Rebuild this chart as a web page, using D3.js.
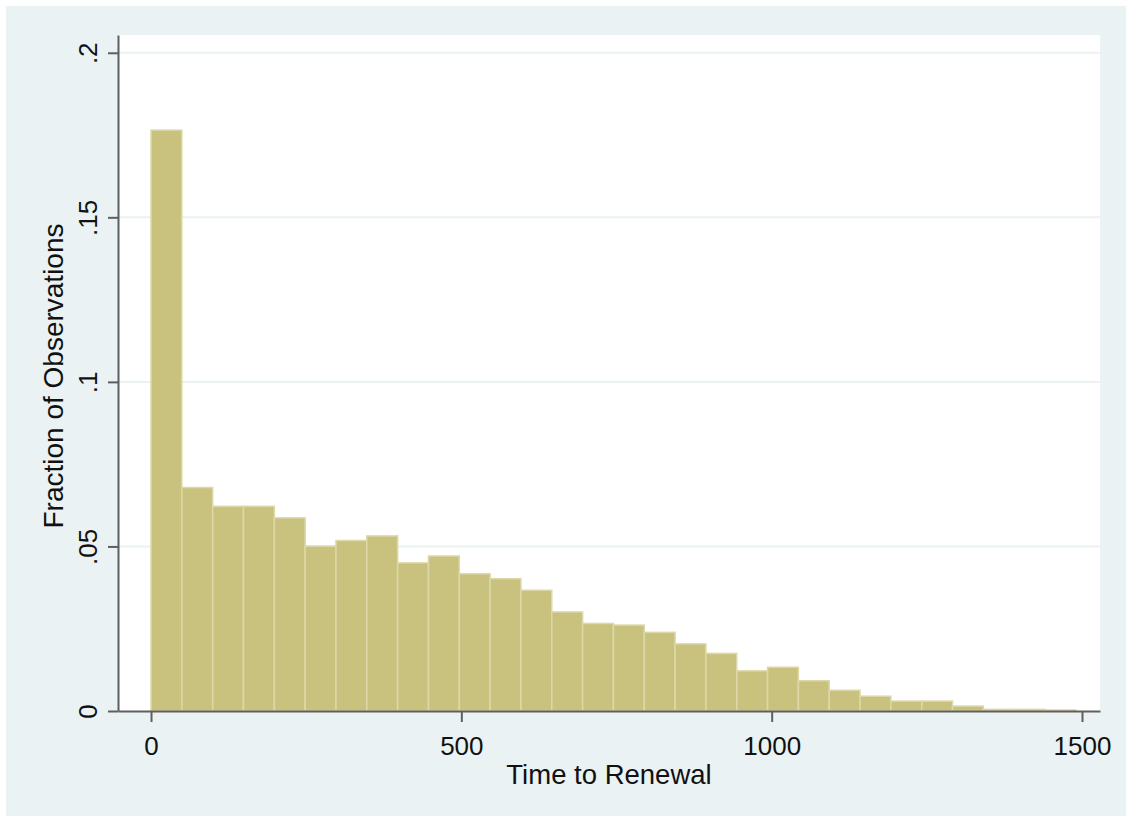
<!DOCTYPE html>
<html>
<head>
<meta charset="utf-8">
<script src="https://d3js.org/d3.v7.min.js"></script>
<style>
  body { margin: 0; background: #ffffff; }
  svg { display: block; font-family: "Liberation Sans", Arial, sans-serif; }
</style>
</head>
<body>
<div id="chart"></div>
<script>
// histogram bins: start of first bin, bin width, and fraction per bin
var binStart = 0;
var binWidth = 49.67;
var fractions = [
  0.1765, 0.0679, 0.0622, 0.0622, 0.0587, 0.0501, 0.0518, 0.0532, 0.0450, 0.0471,
  0.0417, 0.0402, 0.0367, 0.0301, 0.0266, 0.0261, 0.0239, 0.0204, 0.0175, 0.0122,
  0.0133, 0.0092, 0.0063, 0.0045, 0.0030, 0.0030, 0.0015, 0.0005, 0.0005, 0.0003
];
var xTicks = [0, 500, 1000, 1500];
var yTicks = [0, 0.05, 0.1, 0.15, 0.2];
var yTickLabels = ["0", ".05", ".1", ".15", ".2"];
var xTitle = "Time to Renewal";
var yTitle = "Fraction of Observations";

var svgWidth = 1126;
var svgHeight = 816;
// plot region edges
var margin = { top: 35, right: 26, bottom: 105, left: 118 };
var width = svgWidth - margin.left - margin.right;
var height = svgHeight - margin.top - margin.bottom;

var bins = fractions.map(function (f, i) {
  return { x0: binStart + i * binWidth, x1: binStart + (i + 1) * binWidth, frac: f };
});

var svg = d3.select("#chart")
  .append("svg")
  .attr("width", svgWidth)
  .attr("height", svgHeight);

// outer graph region
svg.append("rect")
  .attr("x", 6)
  .attr("y", 6)
  .attr("width", svgWidth - 6)
  .attr("height", svgHeight - 6)
  .attr("fill", "#eaf2f3");

var plot = svg.append("g")
  .attr("transform", `translate(${margin.left}, ${margin.top})`);

plot.append("rect")
  .attr("width", width)
  .attr("height", height)
  .attr("fill", "#ffffff");

var xScale = d3.scaleLinear()
  .domain([-53.2, 1529])
  .range([0, width]);

var yScale = d3.scaleLinear()
  .domain([0, 0.2054])
  .range([height, 0]);

// gridlines
plot.selectAll(".grid")
  .data(yTicks.filter(d => d > 0))
  .enter()
  .append("line")
  .attr("x1", 0)
  .attr("x2", width)
  .attr("y1", d => yScale(d))
  .attr("y2", d => yScale(d))
  .attr("stroke", "#eaf2f3")
  .attr("stroke-width", 2);

// bars
plot.selectAll(".bar")
  .data(bins)
  .enter()
  .append("rect")
  .attr("x", d => xScale(d.x0))
  .attr("y", d => yScale(d.frac))
  .attr("width", d => xScale(d.x1) - xScale(d.x0))
  .attr("height", d => yScale(0) - yScale(d.frac))
  .attr("fill", "#c9c27f")
  .attr("stroke", "#dcd8a8")
  .attr("stroke-width", 1.5);

// x axis
var bottomAxis = d3.axisBottom(xScale)
  .tickValues(xTicks)
  .tickSize(11)
  .tickSizeOuter(0)
  .tickFormat(d3.format("d"));

var xAxis = plot.append("g")
  .attr("transform", `translate(0, ${height})`)
  .call(bottomAxis);

xAxis.select(".domain").attr("stroke", "#5f5f5f").attr("stroke-width", 2);
xAxis.selectAll(".tick line").attr("stroke", "#5f5f5f").attr("stroke-width", 2);
xAxis.selectAll(".tick text")
  .attr("y", 44)
  .attr("dy", 0)
  .attr("fill", "#111")
  .attr("font-size", 26)
  .attr("font-family", "Liberation Sans, Arial, sans-serif");

// y axis
var leftAxis = d3.axisLeft(yScale)
  .tickValues(yTicks)
  .tickSize(10)
  .tickSizeOuter(0)
  .tickFormat((d, i) => yTickLabels[i]);

var yAxis = plot.append("g")
  .call(leftAxis);

yAxis.select(".domain").attr("stroke", "#5f5f5f").attr("stroke-width", 2);
yAxis.selectAll(".tick line").attr("stroke", "#5f5f5f").attr("stroke-width", 2);
yAxis.selectAll(".tick text")
  .attr("x", 0)
  .attr("y", 0)
  .attr("dy", 0)
  .attr("transform", "translate(-21, 0) rotate(-90)")
  .attr("text-anchor", "middle")
  .attr("fill", "#111")
  .attr("font-size", 26)
  .attr("font-family", "Liberation Sans, Arial, sans-serif");

// axis titles
plot.append("text")
  .attr("x", width / 2)
  .attr("y", height + 73)
  .attr("text-anchor", "middle")
  .attr("font-size", 27.5)
  .attr("fill", "#111")
  .text(xTitle);

plot.append("text")
  .attr("transform", `translate(-55, ${height / 2 + 3}) rotate(-90)`)
  .attr("text-anchor", "middle")
  .attr("font-size", 28)
  .attr("fill", "#111")
  .text(yTitle);
</script>
</body>
</html>
